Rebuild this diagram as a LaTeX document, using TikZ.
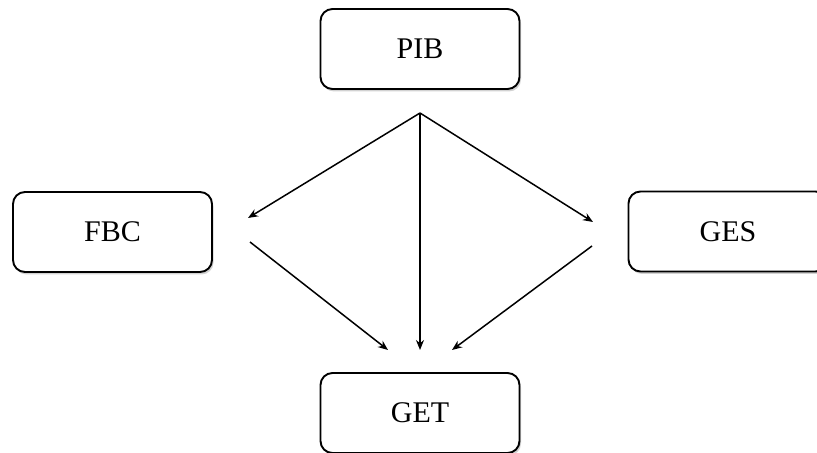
\documentclass[tikz,border=0pt]{standalone}
\usepackage{fontspec}
\setmainfont{Liberation Serif}
\usetikzlibrary{arrows.meta,shadows}
\begin{document}
\begin{tikzpicture}[x=1bp,y=-1bp,
  box/.style={draw=black,line width=1.9bp,rounded corners=12bp,fill=white,
    minimum width=199bp,minimum height=80bp,inner sep=0pt,
    font=\fontsize{30bp}{34bp}\selectfont,
    drop shadow={shadow xshift=1.5bp,shadow yshift=-2.5bp,opacity=0.35}},
  arr/.style={line width=1.5bp,-{Stealth[length=10bp,width=8bp]}}]
\useasboundingbox (0,0) rectangle (817,453);
\clip (0,0) rectangle (817,453);
\fill[white] (0,0) rectangle (817,453);
\node[box] (pib) at (420,49) {PIB};
\node[box] (fbc) at (112.5,232) {FBC};
\node[box] (ges) at (728,231.5) {GES};
\node[box] (get) at (420,413) {GET};
\coordinate (apex) at (420,113);
\coordinate (fbcin) at (248,218);
\coordinate (gesin) at (593,222);
\coordinate (fbcout) at (250,242);
\coordinate (gesout) at (592,246);
\coordinate (getl) at (388,350);
\coordinate (getm) at (420,350);
\coordinate (getr) at (452,350);
\draw[arr] (apex) -- (fbcin);
\draw[arr] (apex) -- (getm);
\draw[arr] (apex) -- (gesin);
\draw[arr] (fbcout) -- (getl);
\draw[arr] (gesout) -- (getr);
\end{tikzpicture}
\end{document}
